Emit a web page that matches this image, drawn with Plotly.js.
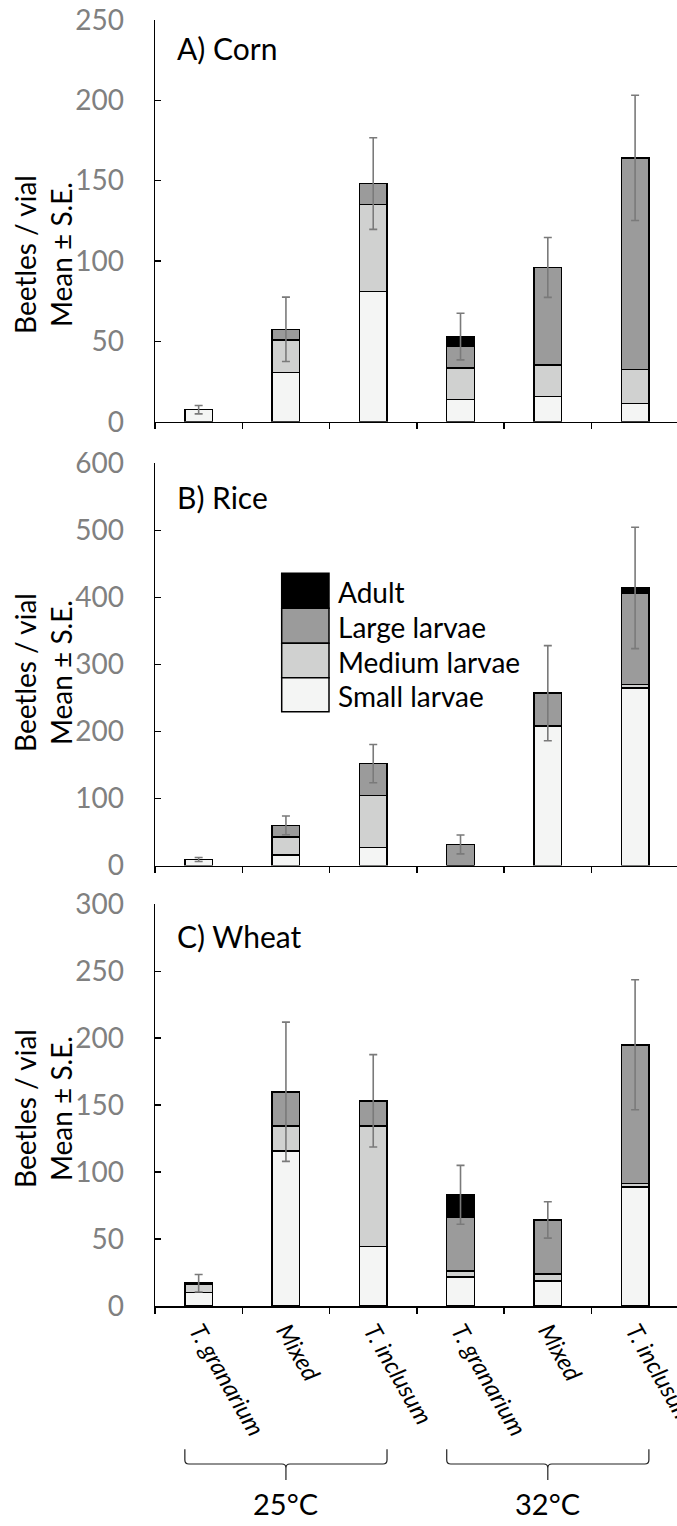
<!DOCTYPE html>
<html>
<head>
<meta charset="utf-8">
<script src="https://cdn.plot.ly/plotly-3.0.1.min.js"></script>
<style>html,body{margin:0;padding:0;background:#fff;}#chart{width:677px;height:1526px;}</style>
</head>
<body>
<div id="chart"></div>
<script>
// ---------- data ----------
var categoryIds = ['25-Tg', '25-Mx', '25-Ti', '32-Tg', '32-Mx', '32-Ti'];
var categoryLabels = ['T. granarium', 'Mixed', 'T. inclusum', 'T. granarium', 'Mixed', 'T. inclusum'];
var seriesNames = ['Small larvae', 'Medium larvae', 'Large larvae', 'Adult'];
var seriesColors = ['#f4f5f4', '#d0d1d0', '#9b9b9b', '#000000'];

// A) Corn
var cornSmall  = [7.5, 30.7, 81, 13.7, 15.6, 11.4];
var cornMedium = [0, 20.3, 54.3, 19.8, 19.7, 21];
var cornLarge  = [0, 6.5, 12.9, 13.7, 60.7, 131.8];
var cornAdult  = [0, 0, 0, 5.8, 0, 0];
var cornSE     = [2.6, 20, 28.5, 14.5, 18.6, 39];

// B) Rice
var riceSmall  = [9, 15.4, 27, 0, 207, 265];
var riceMedium = [0, 27, 77.8, 0, 1.5, 5];
var riceLarge  = [0, 17.5, 47.2, 31.4, 48.5, 136.6];
var riceAdult  = [0, 0, 0, 0, 0, 7.4];
var riceSE     = [3, 14, 28.5, 14, 71, 90.5];

// C) Wheat
var wheatSmall  = [10.2, 115.9, 44.4, 21.7, 18.7, 88.7];
var wheatMedium = [5.8, 18.6, 90.1, 4.5, 5.2, 2.8];
var wheatLarge  = [1, 25.5, 18.7, 40.3, 40.4, 103.6];
var wheatAdult  = [0, 0, 0, 16.5, 0, 0];
var wheatSE     = [6.5, 52, 34.5, 22, 13.6, 48.5];

var panelTitles = ['A) Corn', 'B) Rice', 'C) Wheat'];
var yRanges = [[0, 250], [0, 600], [0, 300]];
var yDticks = [50, 100, 50];
var groupLabels = ['25°C', '32°C'];
var yTitleText = 'Beetles / vial<br>Mean ± S.E.';

// ---------- layout geometry (pixels) ----------
var W = 677, H = 1526;
var M = {l: 155, r: 0, t: 20, b: 220};
var plotW = W - M.l - M.r, plotH = H - M.t - M.b;
function px2x(p) { return (p - M.l) / plotW; }
function px2y(p) { return (H - M.b - p) / plotH; }
var panelPix = [[20, 421.7], [463.3, 865.5], [904.3, 1306]];
var xRange = [-0.5, 5.48];
function cat2x(c) { return (c - xRange[0]) / (xRange[1] - xRange[0]); }

var FONT = 'Lato, "Open Sans", sans-serif';

var panels = [
  [cornSmall, cornMedium, cornLarge, cornAdult, cornSE],
  [riceSmall, riceMedium, riceLarge, riceAdult, riceSE],
  [wheatSmall, wheatMedium, wheatLarge, wheatAdult, wheatSE]
];

var traces = [];
panels.forEach(function (p, k) {
  var xa = k === 0 ? 'x' : 'x' + (k + 1);
  var ya = k === 0 ? 'y' : 'y' + (k + 1);
  for (var s = 0; s < 4; s++) {
    traces.push({
      type: 'bar', x: categoryIds, y: p[s], name: seriesNames[s],
      xaxis: xa, yaxis: ya, showlegend: false, hoverinfo: 'skip',
      marker: {color: seriesColors[s], line: {color: '#000', width: 1.5}}
    });
  }
  var totals = p[0].map(function (v, i) { return v + p[1][i] + p[2][i] + p[3][i]; });
  traces.push({
    type: 'scatter', mode: 'markers', x: categoryIds, y: totals,
    xaxis: xa, yaxis: ya, showlegend: false, hoverinfo: 'skip',
    marker: {size: 1, opacity: 0},
    error_y: {type: 'data', array: p[4], visible: true, color: '#7a7a7a', thickness: 1.6, width: 4}
  });
});

var layout = {
  width: W, height: H, margin: M, barmode: 'stack', bargap: 0.684,
  paper_bgcolor: '#fff', plot_bgcolor: 'rgba(0,0,0,0)',
  font: {family: FONT, size: 28, color: '#000'},
  showlegend: false,
  annotations: [], shapes: []
};

var yCenters = [255, 673, 1109];
var titleCenters = [48, 497, 936];

for (var k = 0; k < 3; k++) {
  var sfx = k === 0 ? '' : String(k + 1);
  var dom = [px2y(panelPix[k][1]), px2y(panelPix[k][0])];
  layout['yaxis' + sfx] = {
    domain: dom, range: yRanges[k], dtick: yDticks[k], tick0: 0,
    anchor: 'x' + sfx, showgrid: false, zeroline: false,
    showline: true, linecolor: '#000', linewidth: 1.5,
    ticks: 'inside', ticklen: 6, tickwidth: 1.5, tickcolor: '#000',
    tickfont: {family: FONT, size: 28, color: '#808080'},
    ticklabelstandoff: 24, fixedrange: true
  };
  layout['xaxis' + sfx] = {
    type: 'category', anchor: 'y' + sfx, range: xRange,
    categoryorder: 'array', categoryarray: categoryIds,
    tickmode: 'array', tickvals: categoryIds,
    ticktext: categoryLabels.map(function (t) { return '<i>' + t + '</i>'; }),
    showticklabels: k === 2, tickangle: 60,
    tickfont: {family: FONT, size: 24, color: '#000'},
    tickson: 'boundaries', ticks: 'outside', ticklen: 6, tickwidth: 1.5, tickcolor: '#000',
    showline: true, linecolor: '#000', linewidth: 1.5,
    showgrid: false, zeroline: false, fixedrange: true
  };
  layout.annotations.push({
    text: panelTitles[k], xref: 'paper', yref: 'paper',
    x: px2x(175), y: px2y(titleCenters[k]), xanchor: 'left', yanchor: 'middle',
    showarrow: false, font: {family: FONT, size: 30, color: '#000'}
  });
  layout.annotations.push({
    text: yTitleText, xref: 'paper', yref: 'paper', textangle: -90,
    x: px2x(43), y: px2y(yCenters[k]), xanchor: 'center', yanchor: 'middle',
    showarrow: false, font: {family: FONT, size: 28, color: '#000'}
  });
}

// legend (inside panel B)
var legendRows = [[573.3, 608.3], [608.3, 643.3], [643.3, 677.7], [677.7, 711.7]];
for (var r = 0; r < 4; r++) {
  var s = 3 - r; // Adult on top
  layout.shapes.push({
    type: 'rect', xref: 'paper', yref: 'paper',
    x0: px2x(281.7), x1: px2x(329), y0: px2y(legendRows[r][1]), y1: px2y(legendRows[r][0]),
    fillcolor: seriesColors[s], line: {color: '#000', width: 1.5}
  });
  layout.annotations.push({
    text: seriesNames[s], xref: 'paper', yref: 'paper',
    x: px2x(336), y: px2y((legendRows[r][0] + legendRows[r][1]) / 2 + 1),
    xanchor: 'left', yanchor: 'middle', showarrow: false,
    font: {family: FONT, size: 28, color: '#000'}
  });
}

// temperature brackets
var halfBar = (1 - layout.bargap) / 2;
var groups = [[0, 2], [3, 5]];
var yTop = 1449.3, yLine = 1464, yBot = 1480;
groups.forEach(function (g, i) {
  var xl = cat2x(g[0] - halfBar), xr = cat2x(g[1] + halfBar), xm = cat2x((g[0] + g[1]) / 2);
  var rx = 4 / plotW, ry = 4 / plotH;
  var yt = px2y(yTop), yl = px2y(yLine), yb = px2y(yBot);
  var path = 'M' + xl + ',' + yt +
    ' L' + xl + ',' + (yl + ry) +
    ' Q' + xl + ',' + yl + ' ' + (xl + rx) + ',' + yl +
    ' L' + (xm - rx) + ',' + yl +
    ' Q' + xm + ',' + yl + ' ' + xm + ',' + (yl - ry) +
    ' L' + xm + ',' + yb +
    ' M' + xm + ',' + (yl - ry) +
    ' Q' + xm + ',' + yl + ' ' + (xm + rx) + ',' + yl +
    ' L' + (xr - rx) + ',' + yl +
    ' Q' + xr + ',' + yl + ' ' + xr + ',' + (yl + ry) +
    ' L' + xr + ',' + yt;
  layout.shapes.push({type: 'path', xref: 'paper', yref: 'paper', path: path,
    line: {color: '#222', width: 1.2}});
  layout.annotations.push({
    text: groupLabels[i], xref: 'paper', yref: 'paper',
    x: xm, y: px2y(1503), xanchor: 'center', yanchor: 'middle',
    showarrow: false, font: {family: FONT, size: 29, color: '#000'}
  });
});

Plotly.newPlot('chart', traces, layout, {staticPlot: true, displayModeBar: false});
</script>
</body>
</html>
